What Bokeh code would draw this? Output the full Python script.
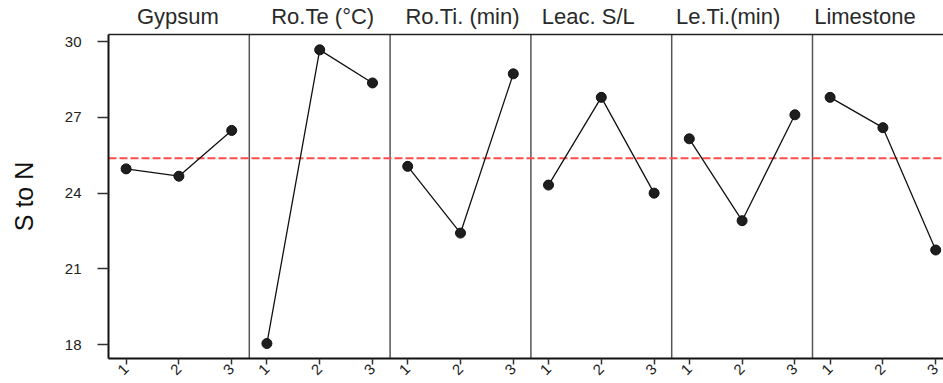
from bokeh.plotting import figure
from bokeh.models import Range1d, FixedTicker, Span, LinearAxis
from bokeh.embed import file_html
from bokeh.resources import INLINE
import math

# Main effects of each factor on the signal-to-noise ratio
factors = ["Gypsum", "Ro.Te (°C)", "Ro.Ti. (min)", "Leac. S/L", "Le.Ti.(min)", "Limestone"]
levels = [1, 2, 3]
gypsum = [24.96, 24.67, 26.48]
ro_te = [18.05, 29.67, 28.36]
ro_ti = [25.06, 22.42, 28.72]
leac_sl = [24.32, 27.79, 24.00]
le_ti = [26.15, 22.91, 27.10]
limestone = [27.79, 26.59, 21.75]
y_ticks = [18, 21, 24, 27, 30]

series = [gypsum, ro_te, ro_ti, leac_sl, le_ti, limestone]
grand_mean = sum(sum(s) for s in series) / sum(len(s) for s in series)

# each panel is 8 x-units wide; levels sit at 1, 4, 7 inside it
PANEL = 8
def xpos(panel, lvl):
    return PANEL * panel + 3 * (lvl - 1) + 1

W, H = 943, 383
LEFT, TOP, BOTTOM = 108, 34, 25
Y0, Y1 = 17.457, 30.277
px_per_x = 140.8 / PANEL
x_end = (W - LEFT) / px_per_x

p = figure(width=W, height=H, output_backend="svg", toolbar_location=None,
           x_range=Range1d(0, x_end), y_range=Range1d(Y0, Y1),
           min_border_left=LEFT, min_border_right=0,
           min_border_top=TOP, min_border_bottom=BOTTOM)
p.outline_line_color = None
p.xgrid.visible = False
p.ygrid.visible = False
p.background_fill_color = "white"
p.border_fill_color = "white"

FONT = "Liberation Sans"

# y axis
ya = p.yaxis[0]
ya.ticker = FixedTicker(ticks=y_ticks)
ya.axis_label = "S to N"
ya.axis_label_text_font = FONT
ya.axis_label_text_font_size = "25px"
ya.axis_label_text_font_style = "normal"
ya.axis_label_text_color = "#111111"
ya.axis_label_standoff = 24
ya.major_label_text_font = FONT
ya.major_label_text_font_size = "15px"
ya.major_label_text_font_style = "normal"
ya.major_label_text_color = "#222222"
ya.major_label_standoff = 16
ya.major_tick_out = 11
ya.major_tick_in = 0
ya.major_tick_line_color = "#333333"
ya.major_tick_line_width = 1.5
ya.minor_tick_line_color = None
ya.axis_line_color = "#111111"
ya.axis_line_width = 2

# x axis: level numbers under every panel
xa = p.xaxis[0]
ticks = [xpos(i, l) for i in range(len(factors)) for l in levels]
xa.ticker = FixedTicker(ticks=ticks)
xa.major_label_overrides = {xpos(i, l): str(l) for i in range(len(factors)) for l in levels}
xa.major_label_orientation = math.pi / 4
xa.major_label_text_font = FONT
xa.major_label_text_font_size = "15px"
xa.major_label_text_font_style = "normal"
xa.major_label_text_color = "#222222"
xa.major_label_standoff = 2
xa.major_tick_out = 6
xa.major_tick_in = 0
xa.major_tick_line_color = "#333333"
xa.major_tick_line_width = 1.5
xa.minor_tick_line_color = None
xa.axis_line_color = "#111111"
xa.axis_line_width = 2

# top frame edge, carrying the panel titles as its labels
title_offsets = [-1, 3, 2, -13, -14, -18]
title_ticks = [PANEL * i + PANEL / 2 + title_offsets[i] / px_per_x for i in range(len(factors))]
top = LinearAxis(ticker=FixedTicker(ticks=title_ticks),
                 major_label_overrides={t: name for t, name in zip(title_ticks, factors)},
                 axis_line_color="#222222", axis_line_width=1.5,
                 major_tick_line_color=None, minor_tick_line_color=None,
                 major_tick_out=0, major_tick_in=0, major_label_standoff=6,
                 major_label_text_font="Arial", major_label_text_font_size="22px",
                 major_label_text_font_style="normal",
                 major_label_text_color="#2a2a2a")
p.add_layout(top, "above")

# panel separators
for i in range(1, len(factors)):
    p.add_layout(Span(location=PANEL * i, dimension="height", line_color="#555555",
                      line_width=1.5, level="underlay"))

# grand mean reference
p.add_layout(Span(location=grand_mean, dimension="width", line_color="#ff4d4d",
                  line_width=2, line_dash="8 3", level="underlay"))

for i, vals in enumerate(series):
    xs = [xpos(i, l) for l in levels]
    p.line(xs, vals, line_color="#111111", line_width=1.3)
    p.scatter(xs, vals, size=10, fill_color="#1e1e1e", line_color="#111111", line_width=1)

open("out.html", "w").write(file_html(p, INLINE))
